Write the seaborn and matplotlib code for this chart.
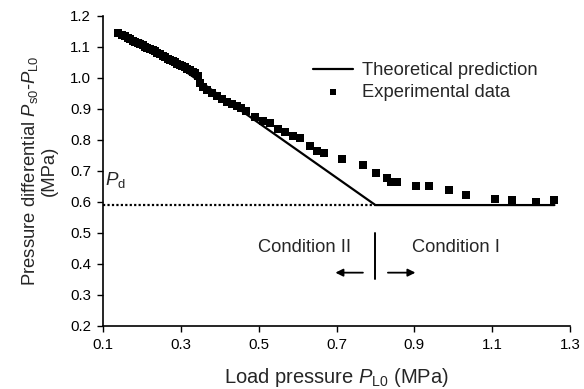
import matplotlib
matplotlib.use("Agg")
import matplotlib.pyplot as plt
import seaborn as sns
import pandas as pd

# ---- data ----
theory_x = [0.20, 0.80, 1.26]
theory_y = [1.12, 0.59, 0.59]

pd_level = 0.59

exp_x = [0.139, 0.148, 0.157, 0.163, 0.169, 0.176, 0.182, 0.189, 0.195, 0.202,
         0.208, 0.214, 0.221, 0.228, 0.234, 0.240, 0.247, 0.253, 0.259, 0.266,
         0.272, 0.279, 0.285, 0.291, 0.298, 0.304, 0.311, 0.317, 0.324, 0.330,
         0.337, 0.344, 0.349, 0.357, 0.367, 0.380, 0.393, 0.406, 0.419, 0.432,
         0.445, 0.455, 0.468, 0.491, 0.511, 0.529, 0.550, 0.568, 0.589, 0.607,
         0.632, 0.650, 0.668, 0.714, 0.768, 0.802, 0.830, 0.840, 0.856, 0.905,
         0.938, 0.990, 1.033, 1.108, 1.152, 1.213, 1.260]
exp_y = [1.146, 1.140, 1.135, 1.130, 1.125, 1.120, 1.115, 1.112, 1.109, 1.105,
         1.101, 1.097, 1.093, 1.090, 1.086, 1.081, 1.076, 1.072, 1.067, 1.062,
         1.057, 1.054, 1.050, 1.045, 1.041, 1.038, 1.034, 1.030, 1.025, 1.020,
         1.015, 1.006, 0.984, 0.971, 0.961, 0.951, 0.941, 0.932, 0.922, 0.915,
         0.909, 0.902, 0.893, 0.873, 0.860, 0.854, 0.834, 0.825, 0.812, 0.805,
         0.779, 0.766, 0.757, 0.740, 0.718, 0.695, 0.676, 0.666, 0.663, 0.650,
         0.650, 0.637, 0.624, 0.611, 0.605, 0.601, 0.605]

x_ticks = [0.1, 0.3, 0.5, 0.7, 0.9, 1.1, 1.3]
y_ticks = [0.2, 0.3, 0.4, 0.5, 0.6, 0.7, 0.8, 0.9, 1.0, 1.1, 1.2]

sns.set_style("ticks")
plt.rcParams["font.family"] = ["Liberation Sans", "DejaVu Sans"]
plt.rcParams["mathtext.fontset"] = "custom"
plt.rcParams["mathtext.rm"] = "Liberation Sans"
plt.rcParams["mathtext.it"] = "Liberation Sans:italic"

fig = plt.figure(figsize=(5.84, 3.89), dpi=100)
ax = fig.add_axes([0.1764, 0.162, 0.7996, 0.797])

theory = pd.DataFrame({"x": theory_x, "y": theory_y})
exp = pd.DataFrame({"x": exp_x, "y": exp_y})

sns.lineplot(data=theory, x="x", y="y", ax=ax, color="black", lw=1.6,
             label="Theoretical prediction", zorder=2)
sns.scatterplot(data=exp, x="x", y="y", ax=ax, color="black", marker="s",
                s=28, linewidth=0, label="Experimental data", zorder=3)

# Pd dotted line
ax.plot([0.1, 0.8], [pd_level, pd_level], color="black", ls=(0, (1, 1)), lw=1.6)
ax.text(0.105, 0.672, r"$P_{\mathrm{d}}$", fontsize=13.5, ha="left", va="center")

# condition divider and arrows
ax.plot([0.8, 0.8], [0.35, 0.50], color="black", lw=1.4)
ax.annotate("", xy=(0.69, 0.372), xytext=(0.775, 0.372),
            arrowprops=dict(arrowstyle="-|>", color="black", lw=1.3,
                            mutation_scale=11))
ax.annotate("", xy=(0.91, 0.372), xytext=(0.825, 0.372),
            arrowprops=dict(arrowstyle="-|>", color="black", lw=1.3,
                            mutation_scale=11))
ax.text(0.619, 0.452, "Condition II", fontsize=13.2, ha="center", va="center")
ax.text(1.008, 0.452, "Condition I", fontsize=13.2, ha="center", va="center")

ax.set_xlim(0.1, 1.3)
ax.set_ylim(0.2, 1.2)
ax.set_xticks(x_ticks)
ax.set_yticks(y_ticks)
ax.set_xticklabels([f"{v:.1f}" for v in x_ticks])
ax.set_yticklabels([f"{v:.1f}" for v in y_ticks])
ax.tick_params(direction="out", length=4.5, width=1, labelsize=10.8,
               colors="black", pad=4)
for side in ["left", "bottom"]:
    ax.spines[side].set_linewidth(1.2)
    ax.spines[side].set_color("black")
sns.despine(ax=ax)

ax.set_xlabel(r"Load pressure $P_{\mathrm{L0}}$ (MPa)", fontsize=14.5, labelpad=10)
ax.set_ylabel("Pressure differential $P_{\\mathrm{s0}}$-$P_{\\mathrm{L0}}$\n(MPa)",
              fontsize=13.3, labelpad=9, linespacing=1.05)

leg = ax.legend(loc="upper left", bbox_to_anchor=(0.433, 0.875), frameon=False,
                fontsize=13.2, handlelength=2.2, handletextpad=0.5,
                labelspacing=0.25, borderaxespad=0, markerscale=0.8)

fig.savefig("out.png", dpi=100)
